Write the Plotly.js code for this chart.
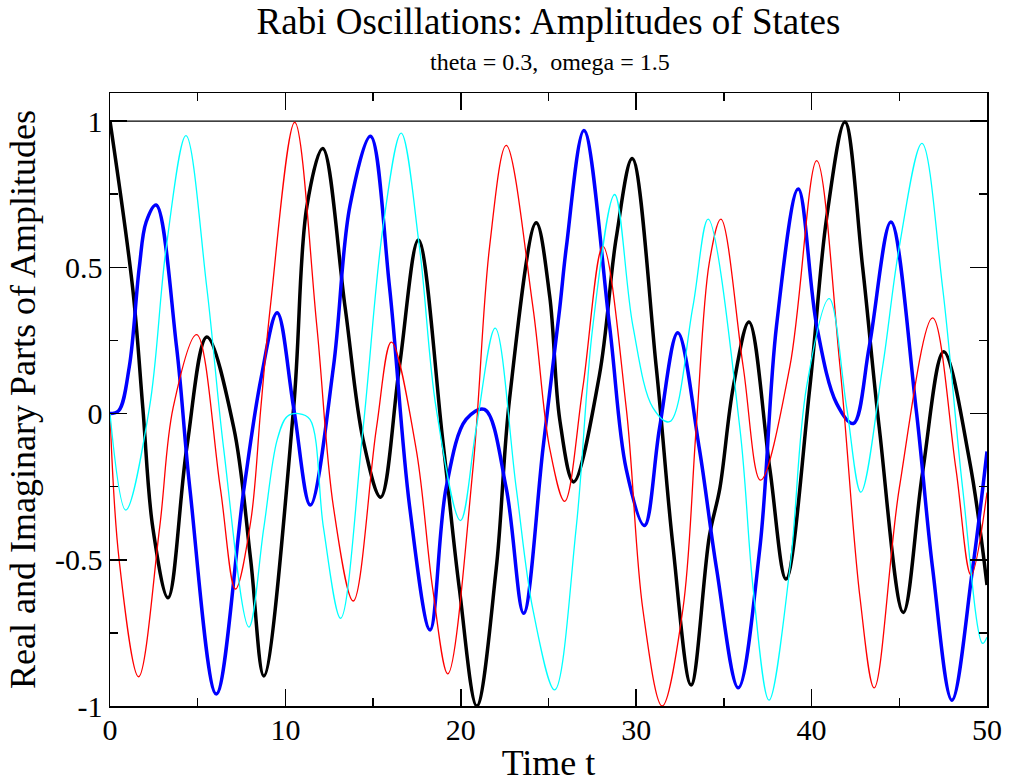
<!DOCTYPE html>
<html>
<head>
<meta charset="utf-8">
<script src="https://cdn.plot.ly/plotly-3.0.1.min.js"></script>
<style>
  html, body { margin: 0; padding: 0; background: #ffffff; }
  #chart { width: 1010px; height: 784px; }
</style>
</head>
<body>
<div id="chart"></div>
<script>
// ---- Data ----
const tBlack = [0, 1.29, 1.87, 2.44, 3.31, 4.37, 5.52, 7.06, 8.02, 8.77, 10.47, 11.23, 12.13, 13.4, 14.43, 15.43, 16.5, 17.58, 18.97, 19.92, 20.91, 22.02, 22.78, 24.3, 25.07, 25.64, 26.43, 27.9, 28.86, 29.77, 31.14, 32.09, 33.13, 34.17, 34.77, 35.53, 36.43, 37.62, 38.54, 39.9, 40.86, 41.9, 42.91, 43.86, 45.23, 46.33, 47.53, 49.0, 50];
const yBlack = [1.0, 0.43, 0.02, -0.39, -0.63, -0.12, 0.262, -0.05, -0.5, -0.897, 0.02, 0.71, 0.906, 0.365, -0.09, -0.286, 0.16, 0.593, -0.09, -0.6, -1.0, -0.53, 0.05, 0.652, 0.40, -0.02, -0.234, 0.13, 0.6, 0.872, 0.16, -0.45, -0.928, -0.42, -0.255, 0.09, 0.313, -0.19, -0.566, 0.09, 0.67, 0.997, 0.5, -0.05, -0.68, -0.2, 0.211, -0.16, -0.586];

const tBlue = [0, 0.5, 1.1, 1.67, 2.06, 2.63, 3.79, 4.56, 6.06, 7.63, 8.6, 9.53, 10.47, 11.42, 12.74, 13.68, 14.85, 15.94, 17.08, 18.25, 19.16, 20.3, 21.35, 22.59, 23.58, 24.69, 25.64, 26.02, 27.02, 28.48, 29.43, 30.47, 31.33, 32.37, 33.6, 34.58, 35.82, 37.05, 38.0, 39.24, 40.29, 41.43, 42.38, 43.29, 44.52, 45.95, 46.9, 48.0, 49.18, 50];
const yBlue = [0, 0.01, 0.16, 0.5, 0.655, 0.713, 0.23, -0.26, -0.959, -0.26, 0.117, 0.345, 0.02, -0.313, 0.16, 0.71, 0.948, 0.43, -0.317, -0.74, -0.255, -0.02, 0.014, -0.255, -0.683, -0.117, 0.36, 0.57, 0.968, 0.3, -0.19, -0.383, -0.05, 0.276, -0.12, -0.53, -0.938, -0.46, 0.3, 0.768, 0.3, 0.034, -0.034, 0.23, 0.655, 0.02, -0.53, -0.98, -0.53, -0.13];

const tRed = [0, 0.52, 1.63, 2.83, 3.6, 4.94, 6.29, 7.15, 8.02, 8.6, 9.15, 10.53, 11.79, 12.74, 13.87, 15.19, 16.04, 17.45, 18.4, 19.26, 20.69, 21.64, 22.59, 24.11, 25.07, 25.92, 26.96, 28.1, 29.43, 30.38, 31.48, 32.66, 33.42, 34.17, 34.83, 36.1, 37.09, 38.76, 40.29, 41.62, 42.76, 43.57, 45.0, 46.9, 48.23, 49.09, 50];
const yRed = [0, -0.5, -0.9, -0.39, 0.02, 0.27, -0.255, -0.6, -0.37, 0.02, 0.37, 0.996, 0.3, -0.32, -0.641, -0.05, 0.244, -0.12, -0.6, -0.89, -0.19, 0.57, 0.917, 0.365, -0.12, -0.3, 0.09, 0.572, 0.02, -0.67, -1.0, -0.67, -0.05, 0.517, 0.665, 0.16, -0.228, 0.16, 0.865, 0.16, -0.63, -0.938, -0.255, 0.327, -0.19, -0.552, -0.27];

const tCyan = [0, 0.9, 2.25, 3.21, 4.33, 5.52, 6.48, 7.92, 8.77, 9.53, 10.1, 10.75, 11.4, 12.17, 13.15, 14.43, 15.57, 16.6, 17.64, 18.59, 19.98, 20.88, 21.96, 23.16, 24.11, 25.35, 26.58, 27.53, 28.77, 29.81, 30.95, 31.9, 33.23, 34.1, 35.91, 36.67, 37.57, 38.76, 39.71, 41.0, 42.0, 42.81, 44.05, 45.0, 46.29, 47.47, 48.61, 49.75, 50];
const yCyan = [0, -0.33, 0.02, 0.57, 0.95, 0.43, -0.12, -0.73, -0.39, -0.09, -0.01, 0.0, -0.02, -0.39, -0.7, -0.05, 0.64, 0.959, 0.57, 0.02, -0.366, -0.05, 0.292, -0.255, -0.67, -0.945, -0.39, 0.3, 0.749, 0.3, 0.02, -0.028, 0.365, 0.665, -0.05, -0.6, -0.98, -0.53, 0.09, 0.393, 0.02, -0.269, 0.16, 0.57, 0.924, 0.43, -0.255, -0.786, -0.765];

// total probability line
const tNorm = [0, 50];
const yNorm = [1, 1];

const yTickVals = [-1, -0.5, 0, 0.5, 1];
const yTickText = ['-1', '-0.5', '0', '0.5', '1'];
const xTickVals = [0, 10, 20, 30, 40, 50];
const xTickText = ['0', '10', '20', '30', '40', '50'];

const titleText = 'Rabi Oscillations: Amplitudes of States';
const subtitleText = 'theta = 0.3,\u00a0 omega = 1.5';
const xTitle = 'Time t';
const yTitle = 'Real and Imaginary Parts of Amplitudes';

// ---- Chart ----
const FONT = 'Liberation Serif, Times New Roman, Times, serif';

function curve(x, y, color, width) {
  return {
    x: x, y: y, type: 'scatter', mode: 'lines',
    line: { color: color, width: width, shape: 'spline', smoothing: 1 },
    hoverinfo: 'skip'
  };
}

const traces = [
  { x: tNorm, y: yNorm, type: 'scatter', mode: 'lines', line: { color: '#000000', width: 1.2 }, hoverinfo: 'skip' },
  curve(tBlack, yBlack, '#000000', 3.5),
  curve(tBlue, yBlue, '#0000ff', 3.5),
  curve(tRed, yRed, '#ff0000', 1.3),
  curve(tCyan, yCyan, '#00ffff', 1.3)
];

const axisCommon = {
  showline: true, linecolor: '#000000', linewidth: 1.5,
  mirror: 'ticks', ticks: 'inside', ticklen: 17, tickwidth: 1.5, tickcolor: '#000000',
  showgrid: false, zeroline: false,
  tickfont: { family: FONT, size: 30, color: '#000000' }
};

const layout = {
  width: 1010, height: 784, autosize: false,
  margin: { l: 110, r: 23, t: 93, b: 78, pad: 0 },
  paper_bgcolor: '#ffffff', plot_bgcolor: '#ffffff',
  font: { family: FONT, color: '#000000' },
  showlegend: false,
  title: {
    text: titleText, font: { family: FONT, size: 37, color: '#000000' },
    xref: 'container', x: 0.543, xanchor: 'center',
    yref: 'container', y: 1 - 21 / 784, yanchor: 'middle'
  },
  annotations: [{
    text: subtitleText, showarrow: false,
    xref: 'paper', x: 0.502, xanchor: 'center',
    yref: 'paper', y: 1.0506, yanchor: 'middle',
    font: { family: FONT, size: 24, color: '#000000' }
  }],
  xaxis: Object.assign({}, axisCommon, {
    range: [0, 50], tickmode: 'array', tickvals: xTickVals, ticktext: xTickText,
    ticklabelstandoff: -4,
    minor: { tickmode: 'linear', tick0: 0, dtick: 5, ticks: 'inside', ticklen: 8, tickwidth: 1.5, tickcolor: '#000000' },
    title: { text: xTitle, font: { family: FONT, size: 36, color: '#000000' }, standoff: 5 }
  }),
  yaxis: Object.assign({}, axisCommon, {
    range: [-1, 1.096], tickmode: 'array', tickvals: yTickVals, ticktext: yTickText,
    minor: { tickmode: 'linear', tick0: 0, dtick: 0.25, ticks: 'inside', ticklen: 8, tickwidth: 1.5, tickcolor: '#000000' },
    title: { text: yTitle, font: { family: FONT, size: 36, color: '#000000' }, standoff: 8 }
  })
};

Plotly.newPlot('chart', traces, layout, { displayModeBar: false, staticPlot: true });
</script>
</body>
</html>
